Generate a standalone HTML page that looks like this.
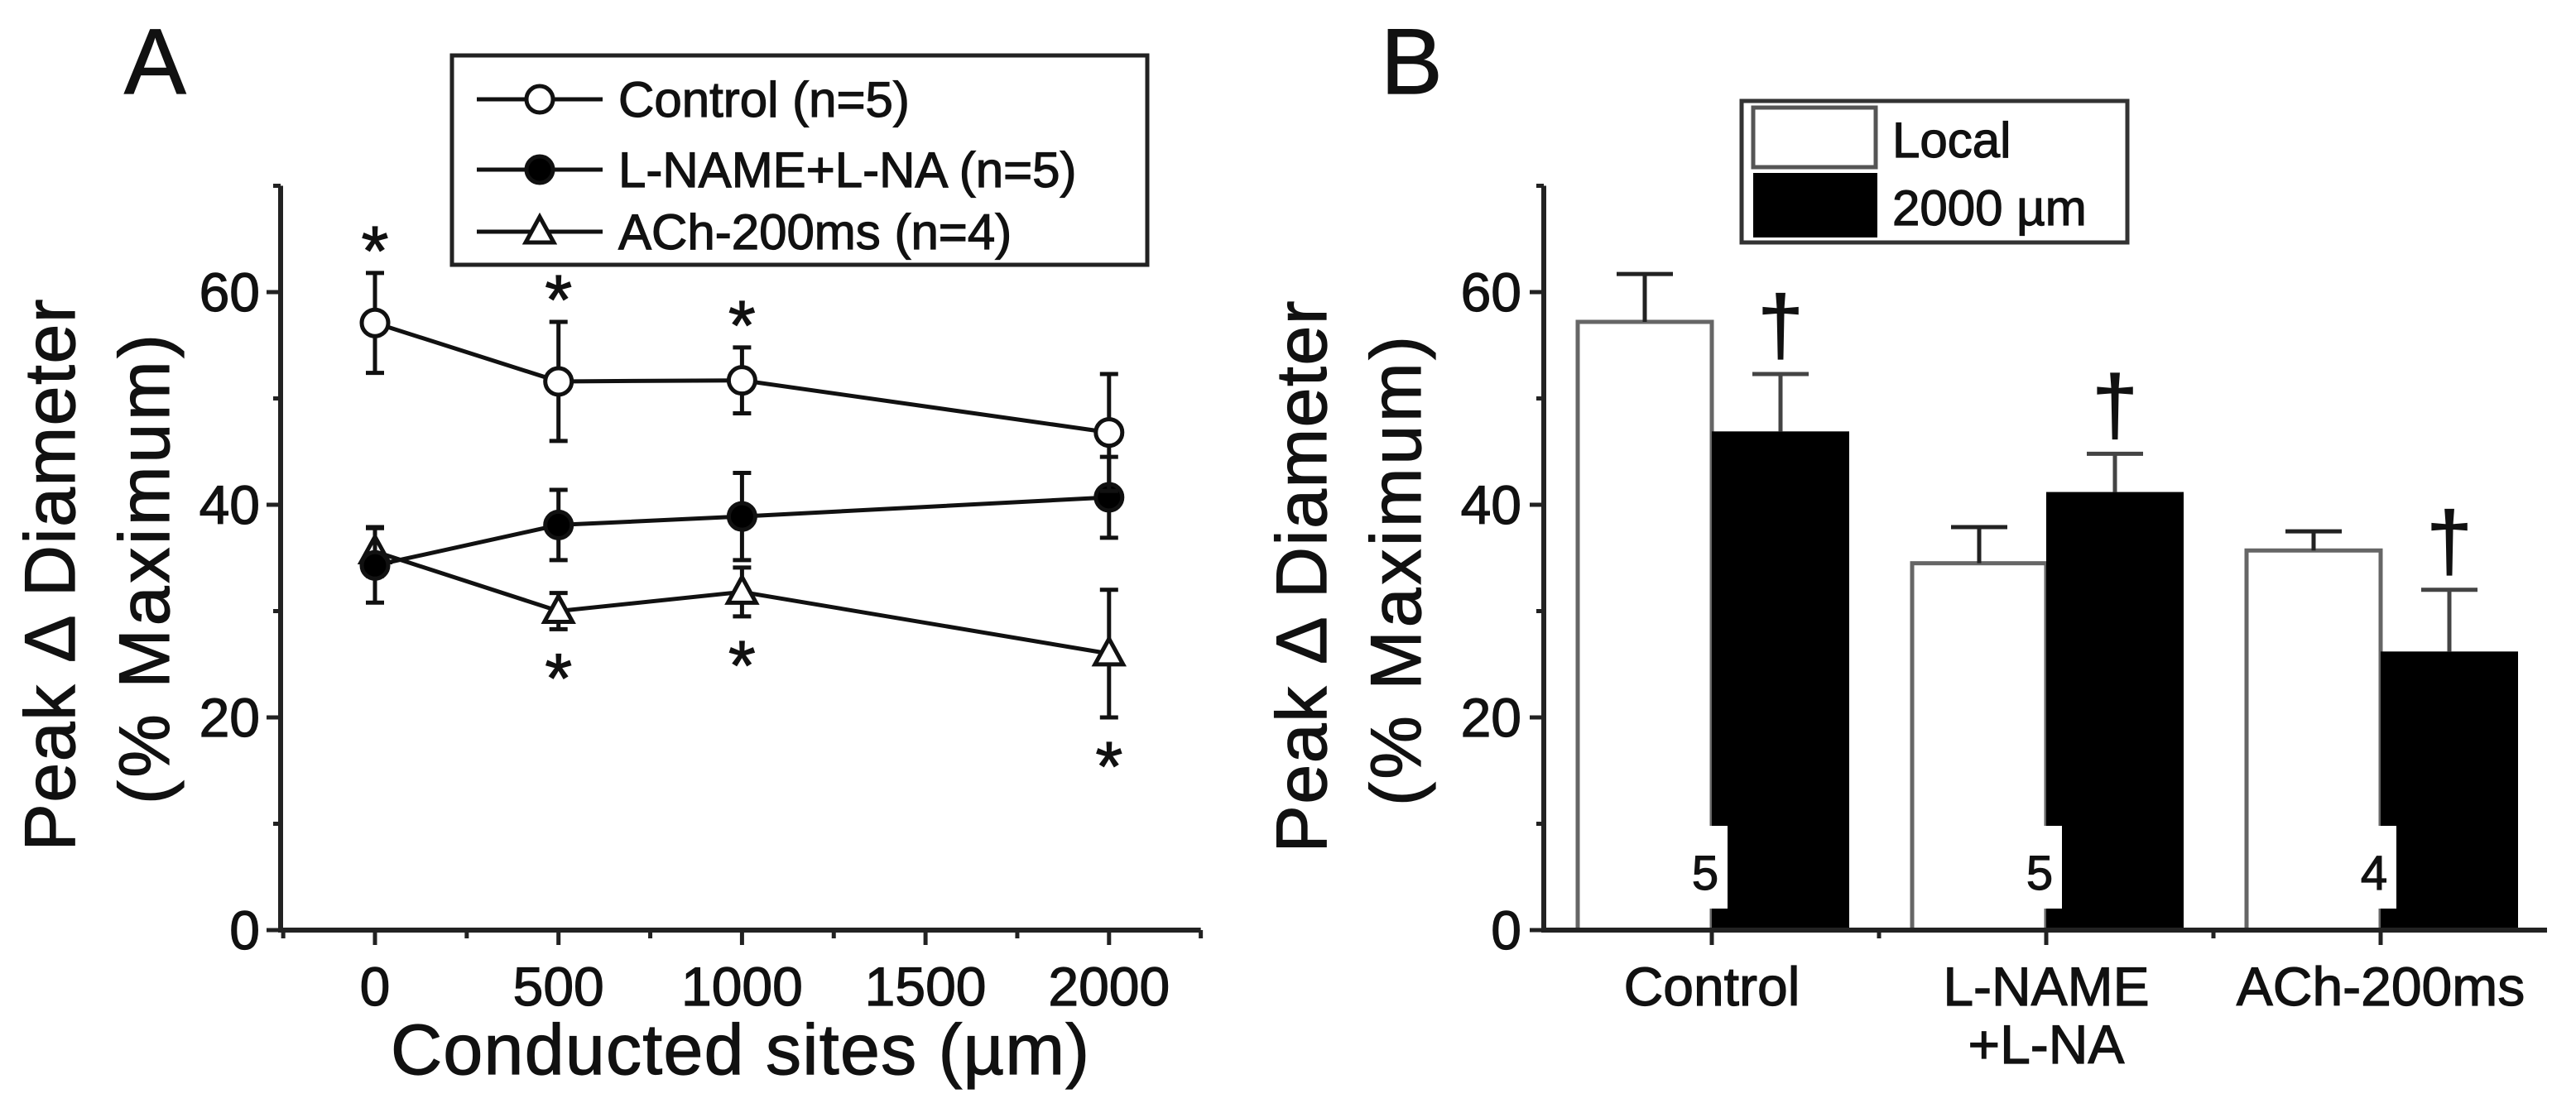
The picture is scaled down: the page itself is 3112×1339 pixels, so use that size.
<!DOCTYPE html>
<html><head><meta charset="utf-8"><style>
html,body{margin:0;padding:0;background:#fff}
svg{display:block}
text{font-family:"Liberation Sans",Arial,sans-serif;fill:#111;stroke:#111;stroke-width:1.2px}
</style></head><body>
<svg id="fig" width="3112" height="1339" viewBox="0 0 3112 1339" xmlns="http://www.w3.org/2000/svg">
<g id="pa"></g>
<g id="pb"></g>
</svg>
<script>
// Panel A data
const sitesA = [0, 500, 1000, 2000];
const controlMean = [57.1, 51.6, 51.7, 46.8];
const controlErr = [4.7, 5.6, 3.1, 5.5];
const lnameMean = [34.3, 38.1, 38.9, 40.7];
const lnameErr = [3.5, 3.3, 4.1, 3.8];
const achMean = [35.6, 30.0, 31.8, 26.0];
const achErr = [2.3, 1.7, 2.3, 6.0];
const starsAbove = [0, 500, 1000];
const starsBelow = [500, 1000, 2000];
const yTicks = [0, 20, 40, 60];
const xTicksA = [0, 500, 1000, 1500, 2000];
// Panel B data
const groupsB = ["Control", "L-NAME", "ACh-200ms"];
const localMean = [57.2, 34.5, 35.7];
const localErr = [4.5, 3.4, 1.8];
const farMean = [46.9, 41.2, 26.2];
const farErr = [5.4, 3.6, 5.8];
const nLabels = ["5", "5", "4"];

const NS = "http://www.w3.org/2000/svg";
function mk(parent, tag, attrs, txt) {
  const e = document.createElementNS(NS, tag);
  for (const k in attrs) e.setAttribute(k, attrs[k]);
  if (txt !== undefined) e.textContent = txt;
  parent.appendChild(e);
  return e;
}
const yScale = v => 1124 - v * 12.85;
const SW = 5;

// ---------- Panel A ----------
const pa = document.getElementById("pa");
const xA = v => 453 + v * 0.4434;
let t;
t = mk(pa, "text", {x: 150, y: 113, "font-size": 112}, "A");


let ax = mk(pa, "path", {d: `M339 ${yScale(70)} V1124 H${xA(2250)}`, stroke: "#222", "stroke-width": 6, fill: "none"});


for (let v = 0; v <= 70; v += 10) {
  const major = v % 20 === 0;
  mk(pa, "line", {x1: major ? 322 : 330, x2: 339, y1: yScale(v), y2: yScale(v), stroke: "#222", "stroke-width": 5});
}
yTicks.forEach(v => {
  const e = mk(pa, "text", {x: 314, y: yScale(v) + 23, "font-size": 66, "text-anchor": "end"}, String(v));
  
  
});
for (let v = -250; v <= 2250; v += 250) {
  const major = v % 500 === 0;
  mk(pa, "line", {x1: xA(v), x2: xA(v), y1: 1124, y2: major ? 1142 : 1134, stroke: "#222", "stroke-width": 5});
}
xTicksA.forEach(v => {
  const e = mk(pa, "text", {x: xA(v), y: 1215, "font-size": 66, "text-anchor": "middle"}, String(v));
  
  
});
t = mk(pa, "text", {x: 894, y: 1298, "font-size": 86, "text-anchor": "middle", textLength: 844}, "Conducted sites (µm)");


t = mk(pa, "text", {transform: "translate(90,695) rotate(-90)", "font-size": 86, "text-anchor": "middle", textLength: 667}, "Peak Δ Diameter");


t = mk(pa, "text", {transform: "translate(204,688) rotate(-90)", "font-size": 86, "text-anchor": "middle", textLength: 568}, "(% Maximum)");



function marker(g, kind, cx, cy) {
  let m;
  if (kind === "tri") m = mk(g, "polygon", {points: `${cx},${cy-18} ${cx-17},${cy+13} ${cx+17},${cy+13}`, fill: "#fff", stroke: "#111", "stroke-width": SW});
  else m = mk(g, "circle", {cx: cx, cy: cy, r: 16, fill: kind === "filled" ? "#000" : "#fff", stroke: "#111", "stroke-width": SW});
  return m;
}
const seriesA = [
  {name: "ach", mean: achMean, err: achErr, kind: "tri"},
  {name: "lname", mean: lnameMean, err: lnameErr, kind: "filled"},
  {name: "control", mean: controlMean, err: controlErr, kind: "open"}
];
seriesA.forEach(s => {
  const g = mk(pa, "g", {});
  
  
  const pts = sitesA.map((x, i) => `${xA(x)},${yScale(s.mean[i])}`).join(" ");
  mk(g, "polyline", {points: pts, fill: "none", stroke: "#111", "stroke-width": SW});
  sitesA.forEach((x, i) => {
    const cx = xA(x), lo = yScale(s.mean[i] - s.err[i]), hi = yScale(s.mean[i] + s.err[i]);
    mk(g, "line", {x1: cx, x2: cx, y1: lo, y2: hi, stroke: "#111", "stroke-width": SW});
    mk(g, "line", {x1: cx - 11, x2: cx + 11, y1: lo, y2: lo, stroke: "#111", "stroke-width": SW});
    mk(g, "line", {x1: cx - 11, x2: cx + 11, y1: hi, y2: hi, stroke: "#111", "stroke-width": SW});
    const m = marker(g, s.kind, cx, yScale(s.mean[i]));
    
    
  });
});
starsAbove.forEach(x => {
  const i = sitesA.indexOf(x);
  const e = mk(pa, "text", {x: xA(x), y: yScale(controlMean[i] + controlErr[i]) + 2, "font-size": 84, "text-anchor": "middle"}, "*");
  
  
});
starsBelow.forEach(x => {
  const i = sitesA.indexOf(x);
  const e = mk(pa, "text", {x: xA(x), y: yScale(achMean[i] - achErr[i]) + 88, "font-size": 84, "text-anchor": "middle"}, "*");
  
  
});
// legend A
const lgA = mk(pa, "g", {});


mk(lgA, "rect", {x: 546, y: 67, width: 840, height: 253, fill: "#fff", stroke: "#222", "stroke-width": 5});
const legA = [["open", "Control (n=5)", 120], ["filled", "L-NAME+L-NA (n=5)", 205], ["tri", "ACh-200ms (n=4)", 280]];
legA.forEach(([k, lab, y]) => {
  const g = mk(lgA, "g", {});
  
  
  mk(g, "line", {x1: 576, x2: 728, y1: y, y2: y, stroke: "#111", "stroke-width": SW});
  marker(g, k, 652, y);
  mk(g, "text", {x: 747, y: y + 21, "font-size": 60}, lab);
});

// ---------- Panel B ----------
const pb = document.getElementById("pb");
const gx = i => 2068 + i * 404;
t = mk(pb, "text", {x: 1668, y: 113, "font-size": 112}, "B");


groupsB.forEach((g, i) => {
  const c = gx(i);
  const b1 = mk(pb, "rect", {x: c - 162, y: yScale(localMean[i]), width: 162, height: 1124 - yScale(localMean[i]), fill: "#fff", stroke: "#666", "stroke-width": 5});
  
  
  const b2 = mk(pb, "rect", {x: c, y: yScale(farMean[i]), width: 166, height: 1124 - yScale(farMean[i]), fill: "#000"});
  
  
  [[c - 81, localMean[i], localErr[i], "#222"], [c + 83, farMean[i], farErr[i], "#444"]].forEach(([x, m, e, col]) => {
    const top = yScale(m + e);
    const eb = mk(pb, "path", {d: `M${x} ${yScale(m)} V${top} M${x - 34} ${top} H${x + 34}`, stroke: col, "stroke-width": 5, fill: "none"});
    
    
  });
  const d = mk(pb, "text", {x: c + 83, y: yScale(farMean[i] + farErr[i]) - 25, "font-size": 100, "text-anchor": "middle"}, "†");
  
  
  mk(pb, "rect", {x: c - 33, y: 998, width: 52, height: 100, fill: "#fff"});
  const n = mk(pb, "text", {x: c - 8, y: 1075, "font-size": 58, "text-anchor": "middle"}, nLabels[i]);
  
  
});
ax = mk(pb, "path", {d: `M1865 ${yScale(70)} V1124 H3077`, stroke: "#222", "stroke-width": 6, fill: "none"});


for (let v = 0; v <= 70; v += 10) {
  const major = v % 20 === 0;
  mk(pb, "line", {x1: major ? 1848 : 1856, x2: 1865, y1: yScale(v), y2: yScale(v), stroke: "#222", "stroke-width": 5});
}
yTicks.forEach(v => {
  const e = mk(pb, "text", {x: 1838, y: yScale(v) + 23, "font-size": 66, "text-anchor": "end"}, String(v));
  
  
});
for (let k = 0; k < 5; k++) {
  const x = 2068 + k * 202;
  mk(pb, "line", {x1: x, x2: x, y1: 1124, y2: k % 2 === 0 ? 1142 : 1134, stroke: "#222", "stroke-width": 5});
}
const catLines = [["Control"], ["L-NAME", "+L-NA"], ["ACh-200ms"]];
catLines.forEach((ls, i) => {
  ls.forEach((l, j) => {
    const e = mk(pb, "text", {x: gx(i), y: 1215 + j * 70, "font-size": 66, "text-anchor": "middle"}, l);
    
    
  });
});
t = mk(pb, "text", {transform: "translate(1602,697) rotate(-90)", "font-size": 86, "text-anchor": "middle", textLength: 667}, "Peak Δ Diameter");


t = mk(pb, "text", {transform: "translate(1716,690) rotate(-90)", "font-size": 86, "text-anchor": "middle", textLength: 568}, "(% Maximum)");


// legend B
const lgB = mk(pb, "g", {});


mk(lgB, "rect", {x: 2104, y: 122, width: 466, height: 171, fill: "#fff", stroke: "#333", "stroke-width": 5});
let le = mk(lgB, "g", {});


mk(le, "rect", {x: 2118, y: 130, width: 148, height: 72, fill: "#fff", stroke: "#555", "stroke-width": 5});
mk(le, "text", {x: 2286, y: 190, "font-size": 60}, "Local");
le = mk(lgB, "g", {});


mk(le, "rect", {x: 2118, y: 209, width: 150, height: 78, fill: "#000"});
mk(le, "text", {x: 2286, y: 272, "font-size": 60}, "2000 µm");
</script>
</body></html>
